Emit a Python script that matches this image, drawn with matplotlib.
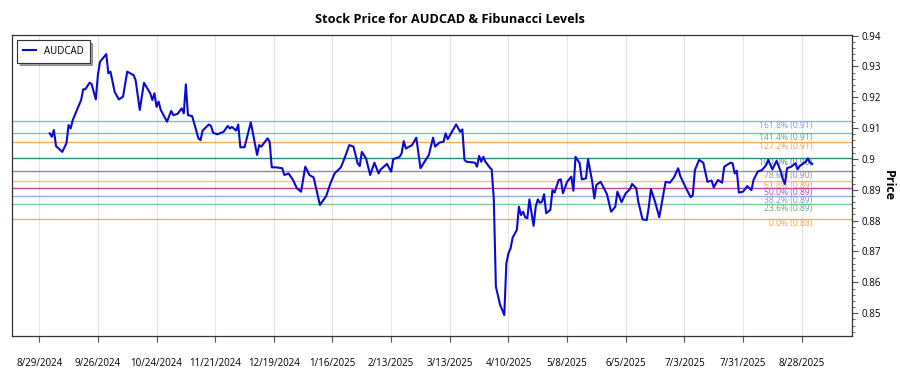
import datetime as dt
import numpy as np
import pandas as pd
import matplotlib
matplotlib.use("Agg")
import matplotlib.pyplot as plt
import matplotlib.dates as mdates
from matplotlib.ticker import FuncFormatter, MultipleLocator

plt.rcParams['font.family'] = ['Open Sans', 'DejaVu Sans']

# price series
dates = [
    "2024-09-03", "2024-09-04", "2024-09-05", "2024-09-06", "2024-09-09", "2024-09-11",
    "2024-09-12", "2024-09-13", "2024-09-14", "2024-09-16", "2024-09-18", "2024-09-19",
    "2024-09-20", "2024-09-22", "2024-09-23", "2024-09-25", "2024-09-26", "2024-09-27",
    "2024-09-30", "2024-10-01", "2024-10-02", "2024-10-04", "2024-10-06", "2024-10-08",
    "2024-10-10", "2024-10-13", "2024-10-14", "2024-10-16", "2024-10-18", "2024-10-21",
    "2024-10-22", "2024-10-23", "2024-10-24", "2024-10-25", "2024-10-26", "2024-10-29",
    "2024-10-31", "2024-11-01", "2024-11-03", "2024-11-05", "2024-11-06", "2024-11-07",
    "2024-11-08", "2024-11-10", "2024-11-13", "2024-11-14", "2024-11-15", "2024-11-18",
    "2024-11-19", "2024-11-20", "2024-11-22", "2024-11-25", "2024-11-27", "2024-11-28",
    "2024-11-29", "2024-12-01", "2024-12-02", "2024-12-03", "2024-12-05", "2024-12-08",
    "2024-12-11", "2024-12-12", "2024-12-13", "2024-12-16", "2024-12-17", "2024-12-18",
    "2024-12-20", "2024-12-23", "2024-12-24", "2024-12-26", "2024-12-28", "2024-12-30",
    "2025-01-01", "2025-01-03", "2025-01-05", "2025-01-07", "2025-01-08", "2025-01-10",
    "2025-01-13", "2025-01-15", "2025-01-17", "2025-01-20", "2025-01-22", "2025-01-24",
    "2025-01-26", "2025-01-28", "2025-01-29", "2025-01-30", "2025-02-01", "2025-02-03",
    "2025-02-05", "2025-02-07", "2025-02-08", "2025-02-11", "2025-02-13", "2025-02-14",
    "2025-02-17", "2025-02-18", "2025-02-19", "2025-02-20", "2025-02-23", "2025-02-25",
    "2025-02-27", "2025-03-03", "2025-03-05", "2025-03-06", "2025-03-08", "2025-03-10",
    "2025-03-11", "2025-03-12", "2025-03-16", "2025-03-18", "2025-03-19", "2025-03-20",
    "2025-03-21", "2025-03-25", "2025-03-26", "2025-03-27", "2025-03-28", "2025-03-29",
    "2025-03-30", "2025-04-01", "2025-04-02", "2025-04-03", "2025-04-04", "2025-04-06",
    "2025-04-07", "2025-04-08", "2025-04-09", "2025-04-10", "2025-04-11", "2025-04-12",
    "2025-04-14", "2025-04-15", "2025-04-16", "2025-04-17", "2025-04-18", "2025-04-19",
    "2025-04-20", "2025-04-22", "2025-04-23", "2025-04-24", "2025-04-25", "2025-04-26",
    "2025-04-27", "2025-04-28", "2025-04-30", "2025-05-01", "2025-05-02", "2025-05-04",
    "2025-05-05", "2025-05-06", "2025-05-08", "2025-05-10", "2025-05-11", "2025-05-12",
    "2025-05-14", "2025-05-15", "2025-05-17", "2025-05-18", "2025-05-20", "2025-05-21",
    "2025-05-22", "2025-05-24", "2025-05-27", "2025-05-29", "2025-05-31", "2025-06-01",
    "2025-06-03", "2025-06-05", "2025-06-07", "2025-06-08", "2025-06-10", "2025-06-11",
    "2025-06-13", "2025-06-15", "2025-06-16", "2025-06-17", "2025-06-19", "2025-06-21",
    "2025-06-24", "2025-06-26", "2025-06-28", "2025-06-30", "2025-07-01", "2025-07-04",
    "2025-07-06", "2025-07-07", "2025-07-08", "2025-07-10", "2025-07-12", "2025-07-14",
    "2025-07-16", "2025-07-17", "2025-07-19", "2025-07-21", "2025-07-22", "2025-07-25",
    "2025-07-26", "2025-07-27", "2025-07-28", "2025-07-29", "2025-07-31", "2025-08-02",
    "2025-08-04", "2025-08-05", "2025-08-07", "2025-08-09", "2025-08-11", "2025-08-12",
    "2025-08-14", "2025-08-16", "2025-08-18", "2025-08-19", "2025-08-20", "2025-08-21",
    "2025-08-23", "2025-08-25", "2025-08-26", "2025-08-27", "2025-08-30", "2025-08-31",
    "2025-09-01", "2025-09-02",
]
prices = [
    0.9083, 0.9072, 0.9094, 0.9042, 0.9023, 0.9051,
    0.9110, 0.9099, 0.9126, 0.9159, 0.9191, 0.9226,
    0.9226, 0.9247, 0.9243, 0.9193, 0.9272, 0.9315,
    0.9340, 0.9278, 0.9283, 0.9218, 0.9193, 0.9202,
    0.9283, 0.9272, 0.9256, 0.9159, 0.9247, 0.9213,
    0.9191, 0.9213, 0.9169, 0.9186, 0.9159, 0.9121,
    0.9156, 0.9142, 0.9146, 0.9164, 0.9148, 0.9242,
    0.9142, 0.9139, 0.9067, 0.9061, 0.9092, 0.9112,
    0.9107, 0.9085, 0.9080, 0.9088, 0.9107, 0.9099,
    0.9104, 0.9092, 0.9112, 0.9038, 0.9038, 0.9119,
    0.9013, 0.9045, 0.9040, 0.9067, 0.9056, 0.8973,
    0.8973, 0.8970, 0.8948, 0.8953, 0.8934, 0.8905,
    0.8894, 0.8975, 0.8948, 0.8940, 0.8910, 0.8851,
    0.8880, 0.8921, 0.8953, 0.8973, 0.9007, 0.9045,
    0.9040, 0.8986, 0.8977, 0.9023, 0.9002, 0.8948,
    0.8988, 0.8953, 0.8966, 0.8984, 0.8959, 0.8999,
    0.9007, 0.9018, 0.9058, 0.9034, 0.9045, 0.9069,
    0.8970, 0.9013, 0.9069, 0.9040, 0.9053, 0.9056,
    0.9083, 0.9064, 0.9112, 0.9088, 0.9096, 0.8997,
    0.8991, 0.8988, 0.8975, 0.9010, 0.8991, 0.9007,
    0.8991, 0.8973, 0.8966, 0.8870, 0.8586, 0.8527,
    0.8511, 0.8494, 0.8662, 0.8694, 0.8710, 0.8745,
    0.8770, 0.8845, 0.8818, 0.8829, 0.8811, 0.8808,
    0.8869, 0.8783, 0.8845, 0.8869, 0.8858, 0.8861,
    0.8886, 0.8824, 0.8835, 0.8899, 0.8891, 0.8932,
    0.8934, 0.8889, 0.8926, 0.8943, 0.8897, 0.9007,
    0.8986, 0.8934, 0.8937, 0.8999, 0.8926, 0.8872,
    0.8916, 0.8926, 0.8886, 0.8829, 0.8845, 0.8894,
    0.8860, 0.8889, 0.8902, 0.8919, 0.8905, 0.8861,
    0.8804, 0.8802, 0.8845, 0.8902, 0.8861, 0.8811,
    0.8926, 0.8923, 0.8940, 0.8970, 0.8945, 0.8902,
    0.8876, 0.8883, 0.8964, 0.8997, 0.8988, 0.8926,
    0.8930, 0.8908, 0.8932, 0.8923, 0.8975, 0.8988,
    0.8986, 0.8953, 0.8962, 0.8891, 0.8894, 0.8912,
    0.8899, 0.8932, 0.8959, 0.8964, 0.8980, 0.8997,
    0.8966, 0.8994, 0.8959, 0.8934, 0.8919, 0.8970,
    0.8975, 0.8986, 0.8966, 0.8977, 0.8991, 0.9002,
    0.8988, 0.8984,
]

# fibonacci levels
fib_low = 0.8806
fib_high = 0.9003
fib_ratios = [0.0, 0.236, 0.382, 0.5, 0.618, 0.786, 1.0, 1.272, 1.414, 1.618]
fib_colors = ['#f4ae5c', '#84c4a0', '#92b2e2', '#c8449e', '#f6c272',
              '#8c8ca4', '#2c8c84', '#f4ae5c', '#84c4a0', '#92b2e2']
fib_text_colors = ['#f0a448', '#5eb07c', '#7c9ce0', '#c04c9c', '#f0a448',
                   '#909098', '#3c8c88', '#f0a448', '#5eb07c', '#7c9ce0']

x_ticks = pd.date_range("2024-08-29", periods=14, freq="28D")

df = pd.DataFrame({'date': pd.to_datetime(dates), 'price': prices})

fig = plt.figure(figsize=(9, 3.75), dpi=100)
ax = fig.add_axes([12 / 900, 1 - 336 / 375, 840 / 900, 301 / 375])

for r, c, tc in zip(fib_ratios, fib_colors, fib_text_colors):
    level = fib_low + r * (fib_high - fib_low)
    ax.axhline(level, color=c, linewidth=1.0, zorder=1)
    ax.text(df['date'].iloc[-1], level,
            f"{r * 100:.1f}% ({level:.2f})",
            color=tc, fontsize=6.2, ha='right', va='top', zorder=2)

ax.plot(df['date'], df['price'], color='#0a0ad2', linewidth=1.5, label='AUDCAD', zorder=3)

ax.set_xlim(pd.Timestamp("2024-08-16"), pd.Timestamp("2025-09-21"))
ax.set_ylim(0.8426, 0.9402)

ax.set_xticks(x_ticks)
ax.xaxis.set_major_formatter(FuncFormatter(
    lambda v, p: (lambda d: f"{d.month}/{d.day}/{d.year}")(mdates.num2date(v))))
ax.grid(axis='x', color='#e4e4e4', linewidth=0.8)
ax.set_axisbelow(True)

ax.yaxis.tick_right()
ax.yaxis.set_label_position('right')
ax.yaxis.set_major_locator(MultipleLocator(0.01))
ax.yaxis.set_minor_locator(MultipleLocator(0.002))
ax.yaxis.set_major_formatter(FuncFormatter(lambda v, p: f"{round(v, 2):g}"))
ax.set_ylabel('Price', rotation=270, fontsize=9, fontweight='bold', labelpad=10)

ax.tick_params(axis='x', length=4, color='#555555', labelsize=7, pad=12)
ax.tick_params(axis='y', which='major', length=4, color='#555555', labelsize=7, pad=3)
ax.tick_params(axis='y', which='minor', length=2, color='#555555')
for s in ax.spines.values():
    s.set_color('#333333')
    s.set_linewidth(0.9)

leg = ax.legend(loc='upper left', fontsize=7, fancybox=False, shadow=True,
                edgecolor='#333333', borderpad=0.6, handlelength=1.4)
leg.get_frame().set_linewidth(0.8)

fig.suptitle('Stock Price for AUDCAD & Fibunacci Levels', fontsize=9.2,
             fontweight='bold', y=0.965)

fig.savefig('out.png', dpi=100)
